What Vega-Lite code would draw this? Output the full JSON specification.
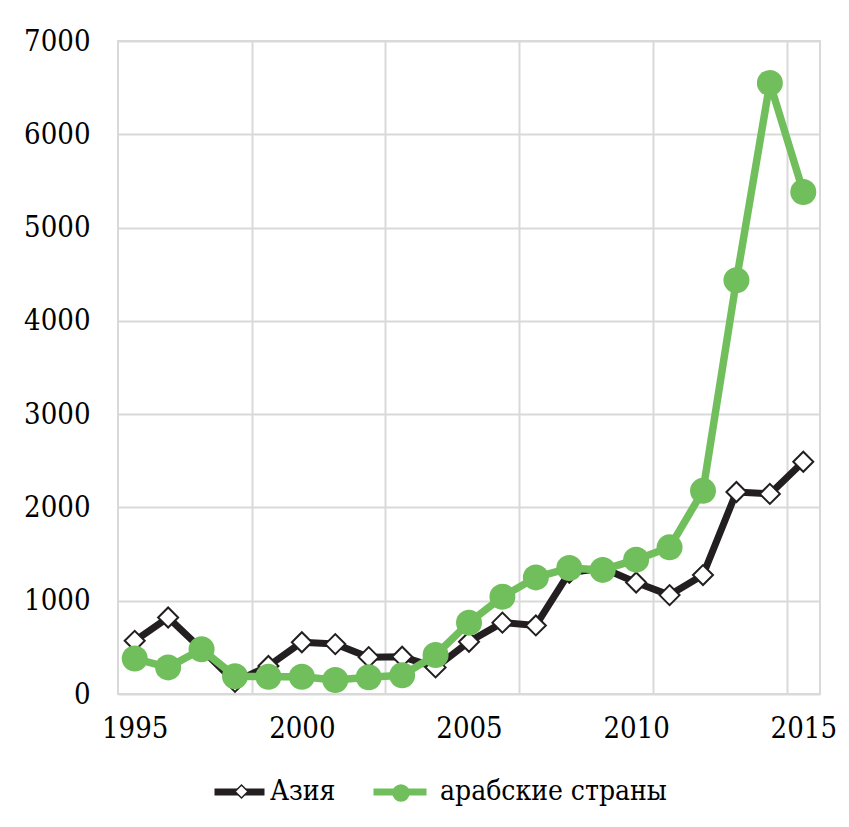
{
  "$schema": "https://vega.github.io/schema/vega-lite/v6.json",
  "width": 702,
  "height": 653,
  "autosize": {"type": "none"},
  "padding": {"left": 118, "top": 41, "right": 29, "bottom": 133},
  "background": "white",
  "config": {
    "view": {"stroke": "#d9d9d9", "strokeWidth": 2},
    "font": "DejaVu Serif Condensed, DejaVu Serif",
    "axis": {
      "labelFont": "DejaVu Serif Condensed, DejaVu Serif",
      "labelFontSize": 29,
      "labelColor": "#000000",
      "ticks": false,
      "domain": false,
      "gridColor": "#d9d9d9",
      "gridWidth": 2,
      "title": null
    },
    "legend": {
      "labelFont": "DejaVu Serif Condensed, DejaVu Serif",
      "labelFontSize": 28,
      "labelColor": "#000000",
      "labelLimit": 500,
      "padding": 0,
      "title": null,
      "orient": "none"
    }
  },
  "data": {
    "values": [
      {"year": 1995, "series": "Азия", "value": 570},
      {"year": 1996, "series": "Азия", "value": 820},
      {"year": 1997, "series": "Азия", "value": 480},
      {"year": 1998, "series": "Азия", "value": 130},
      {"year": 1999, "series": "Азия", "value": 300},
      {"year": 2000, "series": "Азия", "value": 555},
      {"year": 2001, "series": "Азия", "value": 535},
      {"year": 2002, "series": "Азия", "value": 395},
      {"year": 2003, "series": "Азия", "value": 400},
      {"year": 2004, "series": "Азия", "value": 285},
      {"year": 2005, "series": "Азия", "value": 560},
      {"year": 2006, "series": "Азия", "value": 765},
      {"year": 2007, "series": "Азия", "value": 735},
      {"year": 2008, "series": "Азия", "value": 1300},
      {"year": 2009, "series": "Азия", "value": 1350},
      {"year": 2010, "series": "Азия", "value": 1195},
      {"year": 2011, "series": "Азия", "value": 1060},
      {"year": 2012, "series": "Азия", "value": 1275},
      {"year": 2013, "series": "Азия", "value": 2165},
      {"year": 2014, "series": "Азия", "value": 2145},
      {"year": 2015, "series": "Азия", "value": 2490},
      {"year": 1995, "series": "арабские страны", "value": 380},
      {"year": 1996, "series": "арабские страны", "value": 285},
      {"year": 1997, "series": "арабские страны", "value": 480},
      {"year": 1998, "series": "арабские страны", "value": 190},
      {"year": 1999, "series": "арабские страны", "value": 185},
      {"year": 2000, "series": "арабские страны", "value": 185},
      {"year": 2001, "series": "арабские страны", "value": 150},
      {"year": 2002, "series": "арабские страны", "value": 180},
      {"year": 2003, "series": "арабские страны", "value": 200},
      {"year": 2004, "series": "арабские страны", "value": 418},
      {"year": 2005, "series": "арабские страны", "value": 765},
      {"year": 2006, "series": "арабские страны", "value": 1043},
      {"year": 2007, "series": "арабские страны", "value": 1250},
      {"year": 2008, "series": "арабские страны", "value": 1350},
      {"year": 2009, "series": "арабские страны", "value": 1330},
      {"year": 2010, "series": "арабские страны", "value": 1440},
      {"year": 2011, "series": "арабские страны", "value": 1572},
      {"year": 2012, "series": "арабские страны", "value": 2178},
      {"year": 2013, "series": "арабские страны", "value": 4436},
      {"year": 2014, "series": "арабские страны", "value": 6550},
      {"year": 2015, "series": "арабские страны", "value": 5382}
    ]
  },
  "encoding": {
    "x": {
      "field": "year",
      "type": "quantitative",
      "scale": {"domain": [1994.5, 2015.5], "nice": false, "zero": false},
      "axis": {
        "values": [1995, 1998.5, 2000, 2002.5, 2005, 2006.5, 2010, 2010.5, 2014.5, 2015],
        "format": "d",
        "labelExpr": "datum.value % 5 == 0 ? datum.label : ''",
        "gridOpacity": {"condition": {"test": "datum.value % 1 == 0", "value": 0}, "value": 1},
        "labelPadding": 20,
        "labelOverlap": false,
        "labelFlush": false,
        "labelBound": false
      }
    },
    "y": {
      "field": "value",
      "type": "quantitative",
      "scale": {"domain": [0, 7000], "nice": false},
      "axis": {"values": [0, 1000, 2000, 3000, 4000, 5000, 6000, 7000], "format": "d", "labelPadding": 28}
    }
  },
  "layer": [
    {
      "transform": [{"filter": "datum.series == 'Азия'"}],
      "mark": {"type": "line", "strokeWidth": 7, "strokeJoin": "round", "strokeCap": "round"},
      "encoding": {
        "color": {
          "field": "series",
          "type": "nominal",
          "scale": {"domain": ["Азия", "арабские страны"], "range": ["#231f20", "#71bf5c"]},
          "legend": {
            "values": ["Азия"],
            "legendX": 93,
            "legendY": 722.5,
            "symbolType": "stroke",
            "symbolSize": 2500,
            "symbolStrokeWidth": 7,
            "labelOffset": 2
          }
        }
      }
    },
    {
      "transform": [{"filter": "datum.series == 'Азия'"}],
      "mark": {"type": "point", "filled": true, "fill": "#ffffff", "stroke": "#231f20", "strokeWidth": 2, "size": 400, "opacity": 1},
      "encoding": {
        "shape": {
          "field": "series",
          "type": "nominal",
          "scale": {"domain": ["Азия", "арабские страны"], "range": ["diamond", "circle"]},
          "legend": {
            "values": ["Азия"],
            "legendX": 116,
            "legendY": 743,
            "symbolSize": 169,
            "labelFontSize": 1,
            "labelExpr": "''",
            "encode": {
              "symbols": {
                "update": {
                  "fill": {"value": "#ffffff"},
                  "stroke": {"value": "#231f20"},
                  "strokeWidth": {"value": 2},
                  "opacity": {"value": 1}
                }
              }
            }
          }
        }
      }
    },
    {
      "transform": [{"filter": "datum.series == 'арабские страны'"}],
      "mark": {"type": "line", "strokeWidth": 7.5, "strokeJoin": "round", "strokeCap": "round"},
      "encoding": {
        "color": {
          "field": "series",
          "type": "nominal",
          "legend": {
            "values": ["арабские страны"],
            "legendX": 252,
            "legendY": 721,
            "symbolType": "stroke",
            "symbolSize": 2809,
            "symbolStrokeWidth": 7,
            "labelOffset": 10
          }
        }
      }
    },
    {
      "transform": [{"filter": "datum.series == 'арабские страны'"}],
      "mark": {"type": "point", "filled": true, "fill": "#71bf5c", "stroke": "#71bf5c", "strokeWidth": 0, "size": 676, "opacity": 1},
      "encoding": {
        "shape": {
          "field": "series",
          "type": "nominal",
          "legend": {
            "values": ["арабские страны"],
            "legendX": 274,
            "legendY": 743,
            "symbolSize": 256,
            "labelFontSize": 1,
            "labelExpr": "''",
            "encode": {
              "symbols": {
                "update": {
                  "fill": {"value": "#71bf5c"},
                  "strokeWidth": {"value": 0},
                  "opacity": {"value": 1}
                }
              }
            }
          }
        }
      }
    }
  ],
  "resolve": {"legend": {"color": "independent", "shape": "independent"}}
}
